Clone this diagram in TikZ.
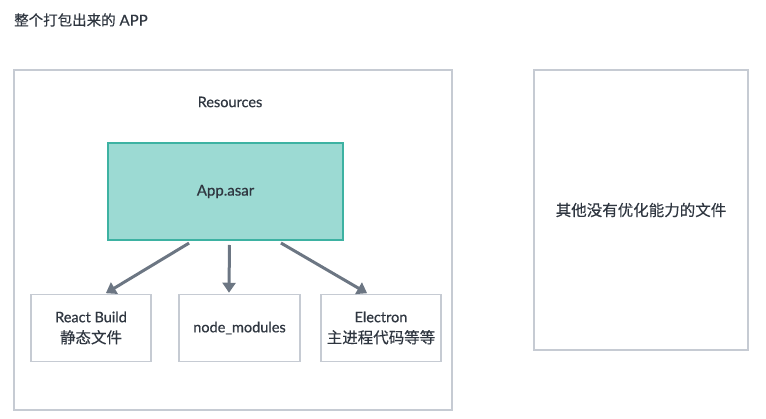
\documentclass[tikz,border=0pt]{standalone}
\usepackage{fontspec}
\setmainfont{Lato}[FakeBold=0.6]
\newfontfamily\cjk{Noto Sans CJK SC}[FakeBold=0.3]
\usetikzlibrary{arrows.meta}

\definecolor{framegray}{HTML}{C6CBD3}
\definecolor{asarfill}{HTML}{9CDAD3}
\definecolor{asarline}{HTML}{3DB2A2}
\definecolor{arrowgray}{HTML}{6C7683}
\definecolor{textdark}{HTML}{2F3640}

\tikzset{
  frame/.style={draw=framegray, line width=1.5pt, inner sep=0pt},
  filebox/.style={frame, minimum width=120pt, minimum height=67pt, align=center,
    font=\fontsize{14.5}{21}\selectfont},
  cn/.style={font=\cjk\fontsize{15.5}{18}\selectfont},
  pack/.style={draw=arrowgray, line width=3pt,
    -{Triangle[length=10pt,width=13pt]}, shorten <=4pt, shorten >=1pt},
}

\begin{document}
\begin{tikzpicture}[x=1pt, y=-1pt, text=textdark]
    \useasboundingbox (0,0) rectangle (766,419);

    % Title
    \node[anchor=west, inner sep=0pt, font=\fontsize{15}{17}\selectfont] (title) at (14,20)
        {{\cjk\fontsize{14.5}{17}\selectfont 整个打包出来的} APP};

    % Resources frame
    \node[frame, minimum width=438pt, minimum height=340pt] (bundle) at (233,240) {};
    \node[font=\fontsize{14.5}{16}\selectfont] (resources) at (230,102) {Resources};

    % App.asar
    \node[draw=asarline, fill=asarfill, line width=2pt, minimum width=235pt,
        minimum height=97pt, font=\fontsize{15}{17}\selectfont] (asar) at (225.5,191.5) {App.asar};

    % Files inside the asar
    \node[filebox] (react) at (91,328) {React Build\\{\cjk\fontsize{15.5}{21}\selectfont 静态文件}};
    \node[filebox, minimum width=121pt] (modules) at (239.5,328) {node\_modules};
    \node[filebox] (electron) at (381,328) {Electron\\{\cjk\fontsize{15.5}{21}\selectfont 主进程代码等等}};

    % Arrows
    \draw[pack] ([xshift=-33pt]asar.south) -- ([xshift=14pt]react.north);
    \draw[pack] ([xshift=4pt]asar.south) -- ([xshift=-10.5pt]modules.north);
    \draw[pack] ([xshift=52pt]asar.south) -- ([xshift=-13pt]electron.north);

    % Everything else
    \node[frame, minimum width=214pt, minimum height=280pt, cn] (others) at (641,210)
        {其他没有优化能力的文件};
\end{tikzpicture}
\end{document}
